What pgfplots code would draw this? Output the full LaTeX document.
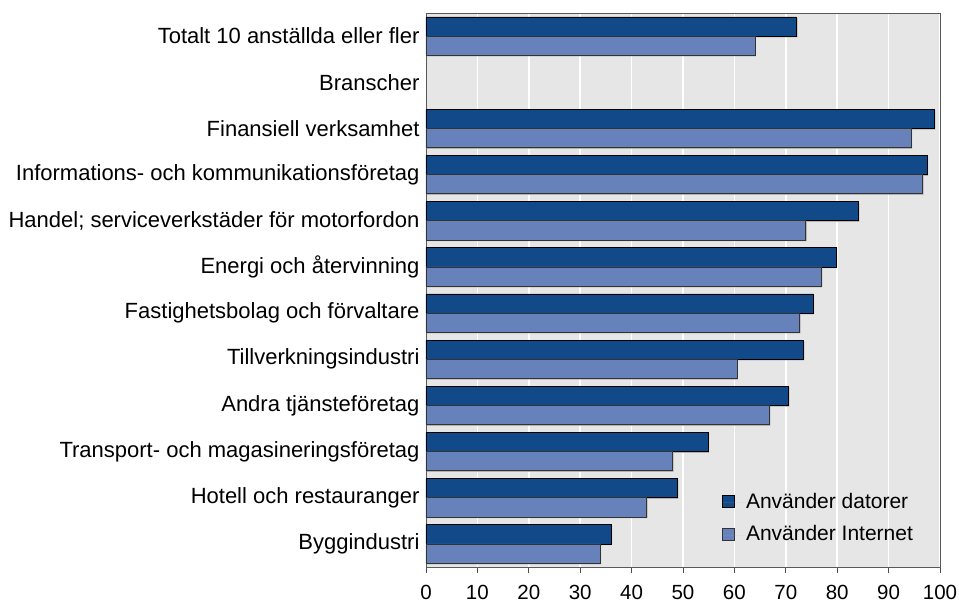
\documentclass[border=0pt]{standalone}
\usepackage{pgfplots}
\pgfplotsset{compat=1.18}
\usepackage{fontspec}
\setmainfont{Liberation Sans}
\definecolor{dark}{HTML}{124A89}
\definecolor{light}{HTML}{6782BA}
\definecolor{bg}{HTML}{E6E6E6}
\begin{document}
\begin{tikzpicture}
\useasboundingbox (-426pt,-39pt) rectangle (533pt,567pt);
\begin{axis}[
  scale only axis, width=514pt, height=554pt,
  xbar, xmin=0, xmax=100, ymin=-0.5, ymax=11.5, y dir=reverse,
  bar width=19.2pt,
  axis background/.style={fill=bg},
  xtick={0,10,...,100}, ytick={0,...,11},
  yticklabels={Totalt 10 anställda eller fler, Branscher, Finansiell verksamhet, Informations- och kommunikationsföretag, Handel; serviceverkstäder för motorfordon, Energi och återvinning, Fastighetsbolag och förvaltare, Tillverkningsindustri, Andra tjänsteföretag, Transport- och magasineringsföretag, Hotell och restauranger, Byggindustri},
  major y tick style={draw=none},
  xmajorgrids, grid style={white, line width=1.5pt},
  tick align=outside, major x tick style={black!70, line width=0.6pt}, major tick length=6pt,
  xtick pos=bottom, ytick pos=left,
  axis line style={black!65},
  xticklabel style={font=\fontsize{20.5}{24}\selectfont, yshift=-9pt},
  yticklabel style={font=\fontsize{22}{26}\selectfont, xshift=3pt},
  /pgf/number format/assume math mode=true,
  legend image code/.code={\draw[#1] (0pt,-6pt) rectangle (12pt,6pt); \path[draw=none, fill=none] (0pt,0pt) -- (22pt,0pt);},
  legend style={at={(0.569,0.037)}, anchor=south west, draw=none, fill=none,
    font=\fontsize{21}{25}\selectfont, row sep=12pt},
  legend cell align=left,
]
\addplot[fill=dark, draw=black, line width=0.7pt, bar shift=9.6pt,
  preaction={fill=black!30, draw=none, transform canvas={xshift=1pt,yshift=-1.2pt}}]
  coordinates {(72.1,0) (98.9,2) (97.5,3) (84.1,4) (79.8,5) (75.3,6) (73.4,7) (70.5,8) (54.9,9) (48.9,10) (36.0,11)};
\addplot[fill=light, draw=black!80, line width=0.7pt, bar shift=-9.6pt,
  preaction={fill=black!30, draw=none, transform canvas={xshift=1pt,yshift=-1.2pt}}]
  coordinates {(64.0,0) (94.4,2) (96.6,3) (73.9,4) (76.9,5) (72.7,6) (60.5,7) (66.8,8) (48.0,9) (42.9,10) (33.9,11)};
\legend{Använder datorer, Använder Internet}
\end{axis}
\end{tikzpicture}
\end{document}
